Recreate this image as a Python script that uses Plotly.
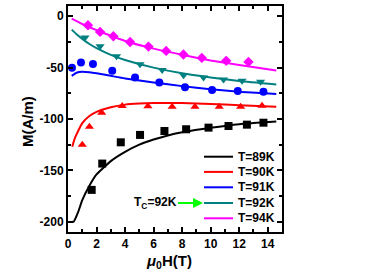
import plotly.graph_objects as go

# ---- data ----
labels = ["T=89K", "T=90K", "T=91K", "T=92K", "T=94K"]
colors = ["#000000", "#ff0000", "#0000ff", "#008080", "#ff00ff"]
symbols = ["square", "triangle-up", "circle", "triangle-down", "diamond"]

# measured points
h89 = [1.66, 2.4, 3.7, 5.05, 6.76, 8.28, 9.85, 11.25, 12.54, 13.7]
m89 = [-169, -143.4, -122.7, -115.5, -111.7, -110, -108.4, -106.8, -105.5, -103.6]
h90 = [1.0, 1.5, 2.36, 3.8, 5.6, 7.3, 8.9, 10.6, 12.1, 13.6]
m90 = [-125, -107.5, -94, -87.4, -87.5, -88, -88, -88, -88, -87]
h91 = [0.28, 0.91, 1.75, 3.1, 4.7, 6.4, 8.2, 10.1, 11.9, 13.7]
m91 = [-50, -45, -46.5, -53, -59.5, -64.5, -69.2, -71.8, -72.8, -73.5]
h92 = [1.19, 2.25, 3.4, 5.05, 6.6, 8.1, 9.5, 10.9, 12.2, 13.5]
m92 = [-20.7, -29.1, -38.8, -46.6, -52.4, -57.3, -59.5, -61.5, -62.8, -63.8]
h94 = [1.4, 2.25, 3.18, 4.35, 5.64, 6.88, 8.09, 9.38, 11.09, 12.65]
m94 = [-8.7, -15.2, -19.4, -25, -29.5, -33.7, -37.2, -40.5, -43.4, -44.4]

# fitted curves
fh89 = [0.26, 0.4, 0.7, 1.0, 1.5, 2.0, 3.0, 4.0, 5.0, 6.0, 7.0, 8.0, 10.0, 12.0, 14.6]
fm89 = [-200, -200, -191, -179, -165, -154, -141, -132, -125, -120, -116, -113, -108.5, -105, -102.5]
fh90 = [0.3, 0.5, 1.0, 1.5, 2.0, 3.0, 4.0, 5.0, 6.0, 8.0, 10.0, 12.0, 14.6]
fm90 = [-127, -118, -104, -97, -93, -88.5, -86, -85, -84.5, -84.5, -85.5, -86.5, -88]
fh91 = [0.26, 0.6, 1.0, 1.5, 2.0, 3.0, 4.0, 6.0, 8.0, 10.0, 12.0, 14.6]
fm91 = [-58, -55, -54, -54.5, -55.5, -58, -60.5, -64.5, -68, -71, -73.5, -75.7]
fh92 = [0.26, 0.6, 1.0, 1.5, 2.0, 3.0, 4.0, 6.0, 8.0, 10.0, 12.0, 14.6]
fm92 = [-13, -17.5, -22, -27, -31, -37.5, -42.5, -50, -55.5, -59.5, -63, -66.3]
fh94 = [0.26, 1.0, 2.0, 3.0, 4.0, 6.0, 8.0, 10.0, 12.0, 14.6]
fm94 = [-2.3, -7.5, -13.5, -19, -24, -31.5, -37.5, -43, -47.5, -52.7]

x_ticks = [0, 2, 4, 6, 8, 10, 12, 14]
y_ticks = [0, -50, -100, -150, -200]

pts = [(h89, m89), (h90, m90), (h91, m91), (h92, m92), (h94, m94)]
fits = [(fh89, fm89), (fh90, fm90), (fh91, fm91), (fh92, fm92), (fh94, fm94)]

FONT = "Liberation Sans, Arial, sans-serif"
W, H = 382, 270
ML, MR, MT, MB = 68, 100, 6, 38
PW, PH = W - ML - MR, H - MT - MB


def px_x(p):  # pixel -> paper
    return (p - ML) / PW


def px_y(p):
    return (H - MB - p) / PH


fig = go.Figure()
for (fx, fy), lab, col in zip(fits, labels, colors):
    fig.add_trace(go.Scatter(x=fx, y=fy, mode="lines", name=lab, showlegend=False,
                             line=dict(color=col, width=2, shape="spline", smoothing=0.5)))
for (px, py), col, sym in zip(pts, colors, symbols):
    fig.add_trace(go.Scatter(x=px, y=py, mode="markers", showlegend=False,
                             marker=dict(color=col, symbol=sym, size=8, line=dict(width=0))))

axis_common = dict(showline=True, linewidth=2, linecolor="black", mirror="ticks",
                   ticks="inside", ticklen=5, tickwidth=1.5, tickcolor="black",
                   showgrid=False, zeroline=False, automargin=False,
                   tickfont=dict(family=FONT, size=12, color="black"))

fig.update_xaxes(range=[0, 15], tickvals=x_ticks, ticktext=["<b>%d</b>" % v for v in x_ticks],
                 minor=dict(dtick=1, ticks="inside", ticklen=3, tickwidth=1.5, tickcolor="black"),
                 **axis_common)
fig.update_yaxes(range=[-210, 10], tickvals=y_ticks, ticktext=["<b>%d</b>" % v for v in y_ticks],
                 minor=dict(dtick=25, ticks="inside", ticklen=3, tickwidth=1.5, tickcolor="black"),
                 **axis_common)

# axis titles
fig.add_annotation(x=px_x(169), y=px_y(261), xref="paper", yref="paper", showarrow=False,
                   xanchor="center", yanchor="middle",
                   text="<b><i>μ</i><sub>0</sub>H(T)</b>", font=dict(family=FONT, size=15, color="black"))
fig.add_annotation(x=px_x(27), y=px_y(122), xref="paper", yref="paper", showarrow=False,
                   xanchor="center", yanchor="middle",
                   text="<b>M(A/m)</b>", textangle=-90, font=dict(family=FONT, size=15, color="black"))

# legend (lines only)
leg_rows = [156.7, 171.9, 187.3, 203.0, 218.3]
for lab, col, ry in zip(labels, colors, leg_rows):
    fig.add_shape(type="line", xref="paper", yref="paper", x0=px_x(204), x1=px_x(233),
                  y0=px_y(ry), y1=px_y(ry), line=dict(color=col, width=2))
    fig.add_annotation(x=px_x(236), y=px_y(ry), xref="paper", yref="paper", showarrow=False,
                       xanchor="left", yanchor="middle", text="<b>%s</b>" % lab,
                       font=dict(family=FONT, size=12, color="black"))

# Tc arrow
fig.add_annotation(x=px_x(203), y=px_y(203), xref="paper", yref="paper", ax=-48, ay=0,
                   text="<b>T<sub>C</sub>=92K</b>", showarrow=True, arrowhead=2, arrowsize=1,
                   arrowwidth=2, arrowcolor="#00ff00",
                   font=dict(family=FONT, size=12, color="black"))

fig.update_layout(width=W, height=H, margin=dict(l=ML, r=MR, t=MT, b=MB, autoexpand=False),
                  paper_bgcolor="white", plot_bgcolor="white",
                  font=dict(family=FONT, size=12, color="black"), showlegend=False)

fig.write_html("out.html", config={"displayModeBar": False},
               post_script="document.body.style.margin='0';")
